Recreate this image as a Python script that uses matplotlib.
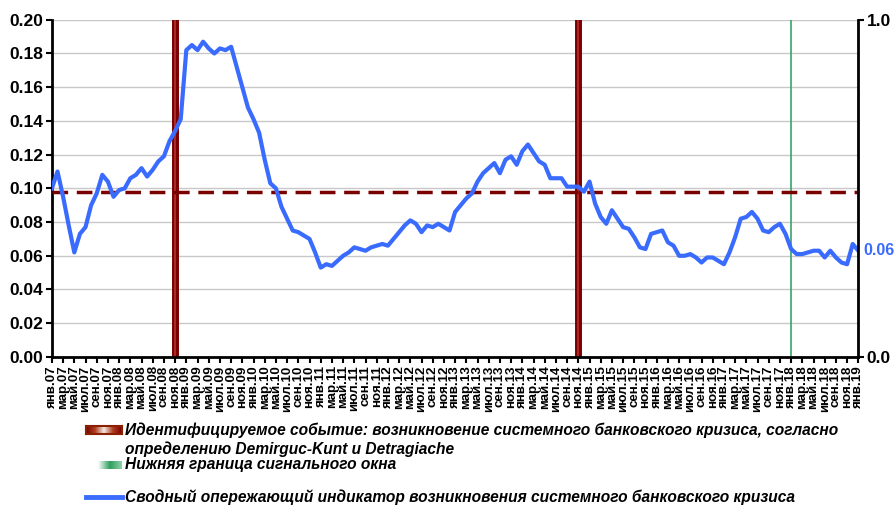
import matplotlib.pyplot as plt
import numpy as np
from matplotlib.colors import LinearSegmentedColormap

plt.rcParams['font.family'] = ['Liberation Sans', 'DejaVu Sans']

# подписи месяцев (янв.07 ... янв.19)
month_names = ['янв', 'фев', 'мар', 'апр', 'май', 'июн',
               'июл', 'авг', 'сен', 'окт', 'ноя', 'дек']
years = ['07', '08', '09', '10', '11', '12', '13', '14', '15', '16', '17', '18', '19']
labels = [m + '.' + y for y in years for m in month_names][:145]

# сводный опережающий индикатор, по месяцам
indicator = [
    0.100, 0.110, 0.095, 0.078, 0.062, 0.073, 0.077, 0.090, 0.097, 0.108, 0.104, 0.095,  # 2007
    0.099, 0.100, 0.106, 0.108, 0.112, 0.107, 0.111, 0.116, 0.119, 0.128, 0.134, 0.141,  # 2008
    0.182, 0.185, 0.182, 0.187, 0.183, 0.180, 0.183, 0.182, 0.184, 0.172, 0.160, 0.148,  # 2009
    0.141, 0.133, 0.117, 0.103, 0.100, 0.089, 0.082, 0.075, 0.074, 0.072, 0.070, 0.062,  # 2010
    0.053, 0.055, 0.054, 0.057, 0.060, 0.062, 0.065, 0.064, 0.063, 0.065, 0.066, 0.067,  # 2011
    0.066, 0.070, 0.074, 0.078, 0.081, 0.079, 0.074, 0.078, 0.077, 0.079, 0.077, 0.075,  # 2012
    0.086, 0.090, 0.094, 0.097, 0.104, 0.109, 0.112, 0.115, 0.109, 0.117, 0.119, 0.114,  # 2013
    0.122, 0.126, 0.121, 0.116, 0.114, 0.106, 0.106, 0.106, 0.101, 0.101, 0.101, 0.098,  # 2014
    0.104, 0.091, 0.083, 0.079, 0.087, 0.082, 0.077, 0.076, 0.071, 0.065, 0.064, 0.073,  # 2015
    0.074, 0.075, 0.068, 0.066, 0.060, 0.060, 0.061, 0.059, 0.056, 0.059, 0.059, 0.057,  # 2016
    0.055, 0.062, 0.071, 0.082, 0.083, 0.086, 0.082, 0.075, 0.074, 0.077, 0.079, 0.073,  # 2017
    0.064, 0.061, 0.061, 0.062, 0.063, 0.063, 0.059, 0.063, 0.059, 0.056, 0.055, 0.067,  # 2018
    0.063,                                                                                # 2019
]
threshold = 0.098
crisis_months = ['ноя.08', 'ноя.14']
signal_months = ['янв.18']
last_label = '0.06'

blue = '#3a6bff'
darkred = '#7a0000'

x = np.arange(len(indicator))

fig = plt.figure(figsize=(8.95, 5.07), dpi=100)
ax = fig.add_axes([0.058, 0.296, 0.901, 0.665])

ax.yaxis.grid(True, color='#c8c8c8', lw=1)
ax.set_axisbelow(True)

for m in crisis_months:
    i = labels.index(m)
    ax.axvline(i, color=darkred, lw=5, zorder=2)
    ax.axvline(i, color='#a82a2a', lw=1.5, zorder=2)
for m in signal_months:
    i = labels.index(m)
    ax.axvline(i, color='#3aa36a', lw=1.2, zorder=2)

ax.axhline(threshold, color=darkred, lw=2.5, dashes=(4.5, 2.5), zorder=3)
ax.plot(x, indicator, color=blue, lw=3, zorder=4, solid_joinstyle='round')

ax.set_xlim(0, len(indicator) - 1)
ax.set_ylim(0, 0.2)
ax.set_yticks(np.arange(0, 0.201, 0.02))
ax.set_yticklabels(['%.2f' % v for v in np.arange(0, 0.201, 0.02)],
                   fontsize=12.5, fontweight='bold')
ax.set_xticks(x[::2])
ax.set_xticklabels(labels[::2], rotation=90, fontsize=9.6, fontweight='bold')
ax.tick_params(axis='both', direction='out', length=4, width=1.5, pad=2)

for s in ['top', 'right']:
    ax.spines[s].set_visible(False)
for s in ['left', 'bottom']:
    ax.spines[s].set_linewidth(2)

ax2 = ax.twinx()
ax2.set_ylim(0, 1)
ax2.set_yticks([0, 1])
ax2.set_yticklabels(['0.0', '1.0'], fontsize=12.5, fontweight='bold')
ax2.tick_params(direction='out', length=4, width=1.5, pad=2)
for s in ['top', 'left', 'bottom']:
    ax2.spines[s].set_visible(False)
ax2.spines['right'].set_linewidth(2)

ax.annotate(last_label, xy=(x[-1], indicator[-1]), xytext=(3.5, 0),
            textcoords='offset points', va='center', ha='left',
            color=blue, fontsize=11.5, fontweight='bold', annotation_clip=False)

# легенда внизу
def fx(px):
    return px / 895.0

def fy(py):
    return 1 - py / 507.0

leg_font = dict(fontsize=11.2, fontweight='bold', style='italic', va='center', ha='left')

red_ax = fig.add_axes([fx(86), fy(434), fx(36), 8 / 507.0])
red_cmap = LinearSegmentedColormap.from_list('r', [darkred, '#b04020', '#f4e8e4', '#b04020', darkred])
red_ax.imshow(np.linspace(0, 1, 100)[None, :], aspect='auto', cmap=red_cmap)
red_ax.set_xticks([])
red_ax.set_yticks([])
for s in red_ax.spines.values():
    s.set_color('#8b2000')
    s.set_linewidth(1.5)

green_ax = fig.add_axes([fx(86), fy(469), fx(36), 8 / 507.0])
green_cmap = LinearSegmentedColormap.from_list('g', ['#ffffff', '#ffffff', '#2e9e5e', '#8fd0a8'])
green_ax.imshow(np.linspace(0, 1, 100)[None, :], aspect='auto', cmap=green_cmap)
green_ax.axis('off')

fig.add_artist(plt.Line2D([fx(86), fx(122)], [fy(497), fy(497)], color=blue, lw=3.5))

fig.text(fx(125), fy(430), 'Идентифицируемое событие: возникновение системного банковского кризиса, согласно', **leg_font)
fig.text(fx(125), fy(449), 'определению Demirguc-Kunt и Detragiache', **leg_font)
fig.text(fx(125), fy(465), 'Нижняя граница сигнального окна', **leg_font)
fig.text(fx(125), fy(497), 'Сводный опережающий индикатор возникновения системного банковского кризиса', **leg_font)

fig.savefig('out.png', dpi=100)
